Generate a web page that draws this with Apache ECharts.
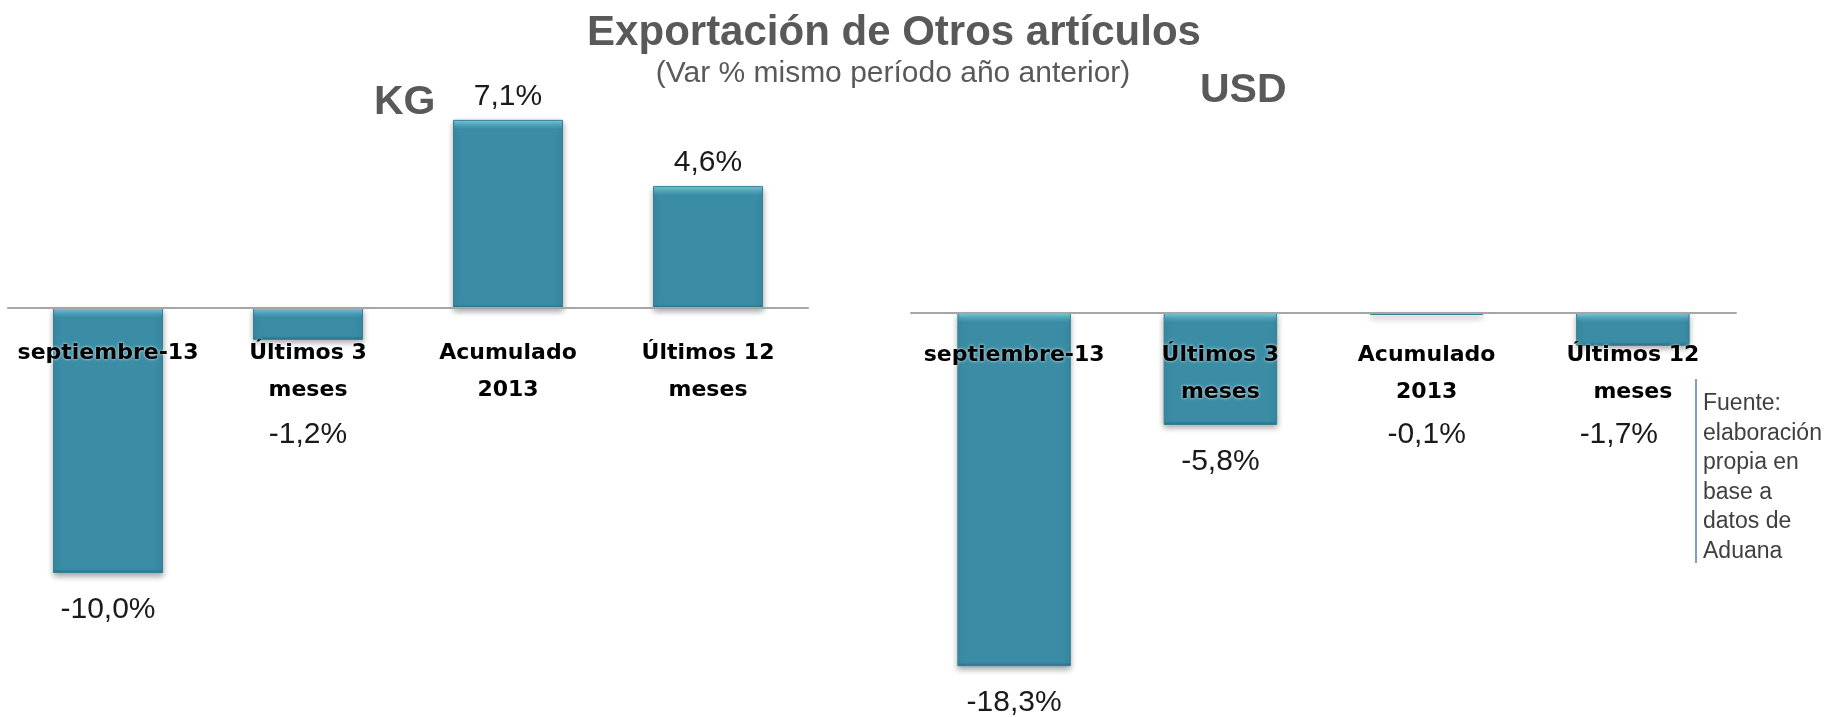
<!DOCTYPE html>
<html>
<head>
<meta charset="utf-8">
<script src="https://cdn.jsdelivr.net/npm/echarts@6/dist/echarts.min.js"></script>
<style>
  html, body { margin: 0; padding: 0; background: #fff; }
  #main { width: 1845px; height: 717px; }
</style>
</head>
<body>
<div id="main"></div>
<script>
// categories and values
const categories = ['septiembre-13', 'Últimos 3\nmeses', 'Acumulado\n2013', 'Últimos 12\nmeses'];
const kgValues = [-10.0, -1.2, 7.1, 4.6];
const usdValues = [-18.3, -5.8, -0.1, -1.7];

const chart = echarts.init(document.getElementById('main'));

const fmt = v => v.toFixed(1).replace('.', ',') + '%';
const noteX = 1696; // left rule of the source note

// bevel-like gradient, band kept to a few pixels whatever the bar length
function barStyle(v, pxPerUnit) {
    const len = Math.max(Math.abs(v) * pxPerUnit, 1);
    const b = Math.min(0.45, 6 / len);
    return {
        color: new echarts.graphic.LinearGradient(0, 0, 0, 1, [
            {offset: 0, color: '#82cde2'},
            {offset: b, color: '#4aa2ba'},
            {offset: Math.min(0.5, b * 1.6), color: '#3a8da5'},
            {offset: Math.max(0.5, 1 - b * 0.6), color: '#3a8da5'},
            {offset: 1, color: '#2c6f83'}
        ]),
        borderColor: '#337f95',
        borderWidth: 1,
        shadowColor: 'rgba(0,0,0,0.35)',
        shadowBlur: 6,
        shadowOffsetY: 3
    };
}

const catLabel = {
    fontFamily: 'DejaVu Sans',
    fontWeight: 'bold',
    fontSize: 22,
    color: '#000',
    lineHeight: 37,
    textShadowColor: 'rgba(255,255,255,0.9)',
    textShadowBlur: 3,
    interval: 0
};

const valLabel = {
    show: true,
    fontFamily: 'Liberation Sans',
    fontSize: 30,
    color: '#1a1a1a',
    formatter: p => fmt(p.value)
};

function makeSeries(values, xi, pxPerUnit) {
    return {
        type: 'bar',
        xAxisIndex: xi,
        yAxisIndex: xi,
        barWidth: '55%',
        data: values.map(v => ({
            value: v,
            itemStyle: barStyle(v, pxPerUnit),
            label: Object.assign({}, valLabel, {
                position: v < 0 ? 'bottom' : 'top',
                distance: v < 0 ? 22 : 8
            })
        })),
        labelLayout: function (params) {
            const vals = params.seriesIndex === 0 ? kgValues : usdValues;
            const r = params.labelRect;
            const out = {};
            // small negative values: put the label below the category text
            const minTop = 420;
            if (vals[params.dataIndex] < 0 && r.y < minTop) out.dy = minTop - r.y;
            // keep clear of the source note
            if (r.x + r.width > noteX - 38) out.dx = noteX - 38 - (r.x + r.width);
            return out;
        }
    };
}

const kgMin = -15, kgMax = 8, kgPx = 26.5;
const usdMin = -20, usdMax = 4, usdPx = 19.3;

const option = {
    animation: false,
    grid: [
        {left: 8, width: 800, top: 308 - kgMax * kgPx, height: (kgMax - kgMin) * kgPx,
            containLabel: false, outerBoundsMode: 'none'},
        {left: 911, width: 825, top: 313 - usdMax * usdPx, height: (usdMax - usdMin) * usdPx,
            containLabel: false, outerBoundsMode: 'none'}
    ],
    xAxis: [0, 1].map(i => ({
        type: 'category',
        gridIndex: i,
        data: categories,
        z: 10,
        position: 'bottom',
        offset: i === 0 ? kgMin * kgPx : usdMin * usdPx,
        axisLine: {onZero: false, lineStyle: {color: '#a6a6a6', width: 2}},
        axisTick: {show: false},
        axisLabel: Object.assign({margin: i === 0 ? 27 : 24}, catLabel)
    })),
    yAxis: [
        {type: 'value', gridIndex: 0, min: kgMin, max: kgMax, show: false, splitLine: {show: false}},
        {type: 'value', gridIndex: 1, min: usdMin, max: usdMax, show: false, splitLine: {show: false}}
    ],
    series: [
        makeSeries(kgValues, 0, kgPx),
        makeSeries(usdValues, 1, usdPx)
    ],
    graphic: [
        {type: 'text', x: 894, y: 33, style: {text: 'Exportación de Otros artículos', align: 'center', verticalAlign: 'middle',
            font: 'bold 42px "Liberation Sans", Arial, sans-serif', fill: '#595959'}},
        {type: 'text', x: 893, y: 74, style: {text: '(Var % mismo período año anterior)', align: 'center', verticalAlign: 'middle',
            font: '30px "Liberation Sans", Arial, sans-serif', fill: '#595959'}},
        {type: 'text', x: 374, y: 103, style: {text: 'KG', align: 'left', verticalAlign: 'middle',
            font: 'bold 41px "Liberation Sans", Arial, sans-serif', fill: '#595959'}},
        {type: 'text', x: 1200, y: 91, style: {text: 'USD', align: 'left', verticalAlign: 'middle',
            font: 'bold 41px "Liberation Sans", Arial, sans-serif', fill: '#595959'}},
        {type: 'line', shape: {x1: noteX, y1: 379, x2: noteX, y2: 563}, style: {stroke: '#4f81bd', lineWidth: 1.5}},
        {type: 'text', x: 1703, y: 389, style: {text: 'Fuente:\nelaboración\npropia en\nbase a\ndatos de\nAduana',
            align: 'left', verticalAlign: 'top', lineHeight: 29.5,
            font: '23px "Liberation Sans", Arial, sans-serif', fill: '#404040'}}
    ]
};

chart.setOption(option);
</script>
</body>
</html>
